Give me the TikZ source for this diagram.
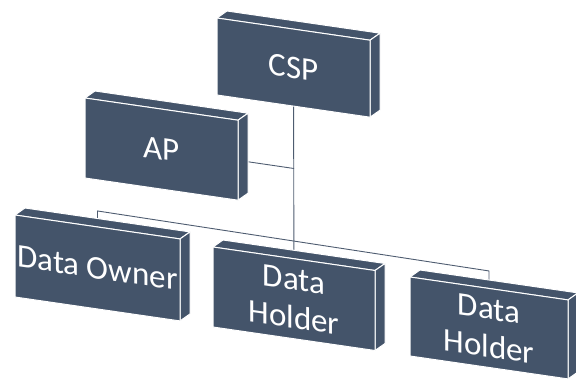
\documentclass[tikz,border=0pt]{standalone}
\usepackage{tikz}
\usepackage{fontspec}
\setmainfont{Carlito}
\usetikzlibrary{calc, backgrounds}
\tikzstyle{chart} = [x = 1pt, y = -1pt]
\definecolor{boxColor}{RGB}{68,84,106}
\definecolor{linkColor}{RGB}{78,92,112}
\tikzstyle{faceStyle} = [fill=boxColor, draw=white, line width=1pt, line join=round]
\tikzstyle{linkLine} = [color=linkColor, line width=.9pt]
\tikzstyle{boxText} = [text=white, font=\fontsize{33}{38}\selectfont, align=center, inner sep=0pt, yslant=-\slope]
\newcommand{\slope}{.145}
\newcommand{\depthX}{10}
\newcommand{\depthY}{7}
% #1 name, (#2,#3) upper left corner of the front, #4 width, #5 height, #6 text
\newcommand{\orgBox}[6]{
  \pgfmathsetmacro{\dropRight}{#3 + #4 * \slope}
  \filldraw [faceStyle] (#2, #3) -- + (\depthX, -\depthY) -- (#2 + #4 + \depthX, \dropRight - \depthY) -- (#2 + #4, \dropRight) -- cycle;
  \filldraw [faceStyle] (#2 + #4, \dropRight) -- + (\depthX, -\depthY) -- + (\depthX, #5 - \depthY) -- + (0, #5) -- cycle;
  \filldraw [faceStyle] (#2, #3) -- (#2 + #4, \dropRight) -- + (0, #5) -- (#2, #3 + #5) -- cycle;
  \node [boxText] (#1) at (#2 + #4 / 2, #3 + #5 / 2 + #4 * \slope / 2) {#6};
}

\begin{document}
\begin{tikzpicture}[chart]
  \clip (0,0) rectangle (576,381);
  \orgBox{csp}{217}{18}{153}{77}{CSP}
  \orgBox{ap}{85}{98}{153}{80}{AP}
  \orgBox{owner}{15}{215}{165}{82}{Data Owner}
  \orgBox{holderA}{213}{247}{162}{80}{Data\\Holder}
  \orgBox{holderB}{410}{277}{158}{79}{Data\\Holder}
  \coordinate (apJoin) at (294, 168.5);
  \coordinate (busLeft) at ($(owner.center) + (0,-57)$);
  \coordinate (busRight) at ($(holderB.center) + (0,-57)$);
  \begin{pgfonlayer}{background}
    \draw [linkLine] (csp.center) -- (holderA.center);
    \draw [linkLine] (ap.center) -- (apJoin);
    \draw [linkLine] (owner.center) -- (busLeft) -- (busRight) -- (holderB.center);
  \end{pgfonlayer}
\end{tikzpicture}
\end{document}
